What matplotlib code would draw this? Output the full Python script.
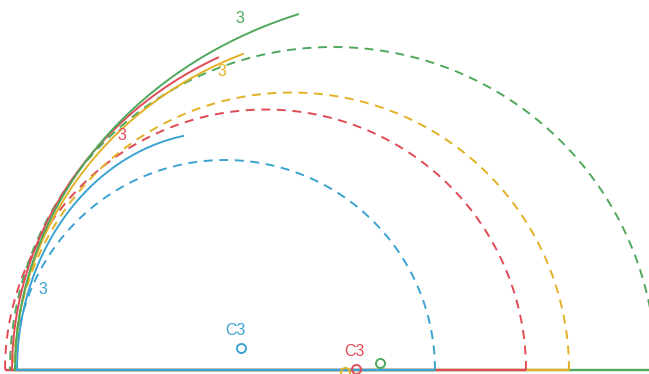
import numpy as np
import matplotlib
matplotlib.use("Agg")
import matplotlib.pyplot as plt

# Series styling order: blue, red, yellow, green
names = ["blue", "red", "yellow", "green"]
colors = ["#3aa3d2", "#e04a55", "#e2b126", "#4fa85c"]

# Dashed semicircles standing on the baseline (centre x, radius)
circle_cx = [225.0, 265.5, 291.5, 333.0]
circle_r = [210.0, 260.5, 277.5, 323.0]

# Solid envelopes: quarter-ellipse arcs rising from the baseline
# (centre x, horizontal semi-axis, vertical semi-axis, x where the arc stops)
env_cx = [220.0, 380.0, 380.0, 440.0]
env_a = [203.0, 368.0, 365.0, 425.0]
env_b = [238.0, 348.0, 341.0, 377.4]
env_xend = [183.0, 218.0, 243.0, 298.0]

# Centre markers and their labels
marker_x = [241.0, 356.0, 345.0, 380.0]
marker_y = [22.0, 1.0, -2.0, 7.0]
marker_label = ["C3", "C3", "", ""]
marker_label_dx = [-6.0, -2.0, 0.0, 0.0]

# Curve labels "3"
label_x = [43.0, 122.0, 222.0, 240.0]
label_y = [81.0, 235.0, 299.0, 352.0]
label_text = ["3", "3", "3", "3"]

fig = plt.figure(figsize=(6.49, 3.74), dpi=100)
ax = fig.add_axes([0, 0, 1, 1])
ax.set_xlim(0, 649)
ax.set_ylim(-4, 370)
ax.axis("off")

lw = 1.4
dash = (0, (4.6, 3.4))
font = ["Liberation Sans", "DejaVu Sans"]

# Baselines, drawn so the blue one sits on top
for i in reversed(range(4)):
    left = circle_cx[i] - circle_r[i]
    right = circle_cx[i] + circle_r[i]
    ax.plot([left, right], [0, 0], color=colors[i], lw=lw + 0.3,
            solid_capstyle="butt", zorder=2 + (3 - i) * 0.1)

# Dashed semicircles
t = np.linspace(0, np.pi, 400)
for i in range(4):
    ax.plot(circle_cx[i] + circle_r[i] * np.cos(t), circle_r[i] * np.sin(t),
            color=colors[i], lw=lw, linestyle=dash, zorder=3)

# Solid envelope arcs
for i in range(4):
    th_end = np.arccos((env_xend[i] - env_cx[i]) / env_a[i])
    th = np.linspace(np.pi, th_end, 300)
    ax.plot(env_cx[i] + env_a[i] * np.cos(th), env_b[i] * np.sin(th),
            color=colors[i], lw=lw, zorder=4)

# Centre markers
for i in range(4):
    ax.plot(marker_x[i], marker_y[i], marker="o", ms=6.5, mfc="none",
            mec=colors[i], mew=1.4, zorder=5)
    if marker_label[i]:
        ax.text(marker_x[i] + marker_label_dx[i], marker_y[i] + 10, marker_label[i],
                color=colors[i], fontsize=11.5, ha="center", va="bottom", family=font)

# Curve labels
for i in range(4):
    ax.text(label_x[i], label_y[i], label_text[i], color=colors[i], fontsize=11.5,
            ha="center", va="center", family=font, zorder=6)

fig.savefig("out.png", dpi=100)
